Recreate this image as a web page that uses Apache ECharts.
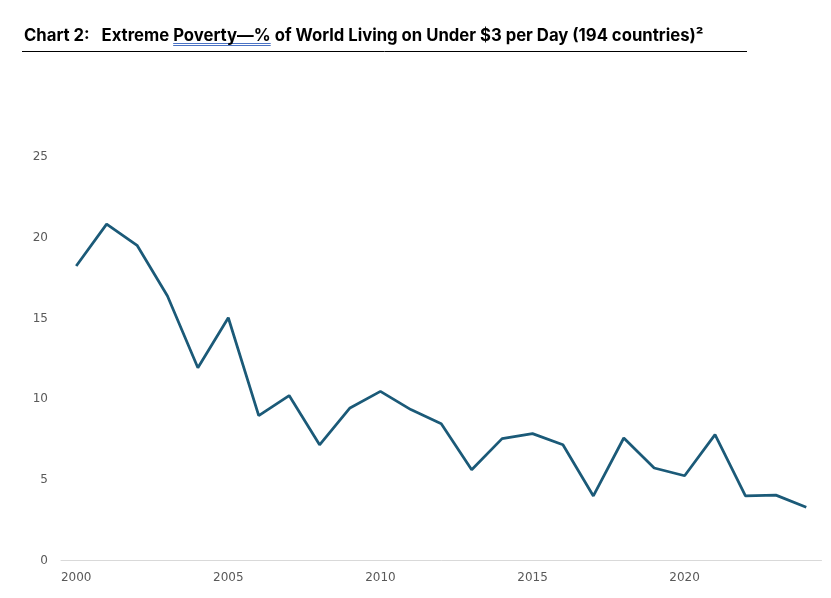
<!DOCTYPE html>
<html>
<head>
<meta charset="utf-8">
<script src="https://cdn.jsdelivr.net/npm/echarts@6/dist/echarts.min.js"></script>
<style>
html,body{margin:0;padding:0;background:#fff;}
#chart{width:831px;height:598px;}
</style>
</head>
<body>
<div id="chart"></div>
<script>
// years on the x axis
var years = ['2000','2001','2002','2003','2004','2005','2006','2007','2008','2009','2010','2011','2012',
  '2013','2014','2015','2016','2017','2018','2019','2020','2021','2022','2023','2024'];
// % of world living on under $3 per day
var povertyPct = [18.25, 20.84, 19.53, 16.39, 11.94, 15.04, 8.98, 10.22, 7.17, 9.45, 10.48, 9.35, 8.48,
  5.62, 7.55, 7.86, 7.17, 4.0, 7.59, 5.73, 5.25, 7.8, 4.0, 4.05, 3.3];
var yTicks = [0, 5, 10, 15, 20, 25];

var titleSize = 16.7;
var titleFont = 'bold ' + titleSize + 'px Inter';
var titlePre = 'Chart 2:   Extreme ';
var titleMark = 'Poverty\u2014%';
var titleText = titlePre + titleMark + ' of World Living on Under $3 per Day (194 countries)\u00b2';
var titleLeft = 24;

// measure where the spell-check underline goes
var ctx = document.createElement('canvas').getContext('2d');
ctx.font = titleFont;
var ulX1 = titleLeft + ctx.measureText(titlePre).width;
var ulX2 = ulX1 + ctx.measureText(titleMark).width;

var myChart = echarts.init(document.getElementById('chart'));
var opt = {
  animation: false,
  title: {
    text: titleText,
    left: titleLeft,
    top: 27,
    padding: 0,
    textStyle: {
      fontFamily: 'Inter',
      fontWeight: 'bold',
      fontSize: titleSize,
      color: '#000'
    }
  },
  graphic: [
    {
      type: 'line',
      shape: { x1: 22, y1: 51.5, x2: 747, y2: 51.5 },
      style: { stroke: '#000', lineWidth: 1 }
    },
    {
      type: 'line',
      shape: { x1: ulX1, y1: 43.5, x2: ulX2, y2: 43.5 },
      style: { stroke: '#4a72c4', lineWidth: 1 }
    },
    {
      type: 'line',
      shape: { x1: ulX1, y1: 45.5, x2: ulX2, y2: 45.5 },
      style: { stroke: '#4a72c4', lineWidth: 1 }
    }
  ],
  grid: {
    left: 61,
    right: 9.5,
    top: 157,
    bottom: 37.5,
    containLabel: false
  },
  xAxis: {
    type: 'category',
    data: years,
    boundaryGap: true,
    axisLine: { lineStyle: { color: '#d9d9d9', width: 1 } },
    axisTick: { show: false },
    axisLabel: {
      interval: 4,
      color: '#595959',
      fontFamily: 'DejaVu Sans',
      fontSize: 12,
      margin: 11
    }
  },
  yAxis: {
    type: 'value',
    min: yTicks[0],
    max: yTicks[yTicks.length - 1],
    interval: 5,
    axisLine: { show: false },
    axisTick: { show: false },
    splitLine: { show: false },
    axisLabel: {
      color: '#595959',
      fontFamily: 'DejaVu Sans',
      fontSize: 12,
      margin: 13
    }
  },
  series: [
    {
      name: 'poverty',
      type: 'line',
      data: povertyPct,
      symbol: 'none',
      lineStyle: { color: '#1b5a78', width: 2.75 },
      itemStyle: { color: '#1b5a78' }
    }
  ]
};
myChart.setOption(opt);
</script>
</body>
</html>
